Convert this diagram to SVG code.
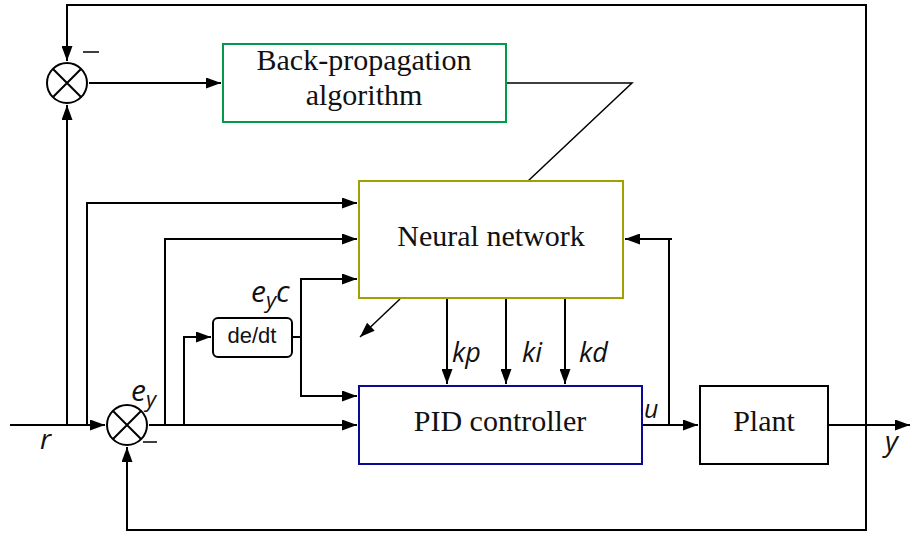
<svg xmlns="http://www.w3.org/2000/svg" width="910" height="533" viewBox="0 0 910 533">
<style>
.w{stroke:#000;stroke-width:2;fill:none}
.t{stroke:#000;stroke-width:1.5;fill:none}
.node{font-family:"Liberation Serif",serif;font-size:30px;fill:#111;text-anchor:middle}
.it{font-family:"Open Sans","Noto Sans",sans-serif;font-style:italic;fill:#111}
.sum{fill:#fff;stroke:#000;stroke-width:2}
</style>
<defs>
<marker id="a" markerUnits="userSpaceOnUse" markerWidth="15" markerHeight="11" refX="15" refY="5.5" orient="auto">
<path d="M0,0 L15,5.5 L0,11 z" fill="#000"/>
</marker>
</defs>
<rect width="910" height="533" fill="#fff"/>
<g id="connectors">
<path class="w" d="M10,425 H105" marker-end="url(#a)"/>
<path class="w" d="M67,425 V105" marker-end="url(#a)"/>
<path class="w" d="M866,425 V5 H67 V61" marker-end="url(#a)"/>
<path class="w" d="M866,425 V530 H127 V447" marker-end="url(#a)"/>
<path class="w" d="M89,83 H221" marker-end="url(#a)"/>
<path class="t" d="M506,83 H632 L528,181"/>
<path class="t" d="M400,299 L360,337" marker-end="url(#a)"/>
<path class="w" d="M87,425 V203 H357" marker-end="url(#a)"/>
<path class="w" d="M165,425 V239 H357" marker-end="url(#a)"/>
<path class="w" d="M184,425 V337 H211" marker-end="url(#a)"/>
<path class="w" d="M149,425 H357" marker-end="url(#a)"/>
<path class="w" d="M292,337 H301"/>
<path class="w" d="M301,337 V279 H357" marker-end="url(#a)"/>
<path class="w" d="M301,337 V396 H357" marker-end="url(#a)"/>
<path class="w" d="M447,299 V384" marker-end="url(#a)"/>
<path class="w" d="M506,299 V384" marker-end="url(#a)"/>
<path class="w" d="M565,299 V384" marker-end="url(#a)"/>
<path class="w" d="M643,425 H698" marker-end="url(#a)"/>
<path class="w" d="M669,425 V239 H625" marker-end="url(#a)"/>
<path class="w" d="M669,239 H672"/>
<path class="w" d="M829,425 H910" marker-end="url(#a)"/>
</g>
<g id="sum-top">
<circle class="sum" cx="67" cy="83" r="20"/>
<path class="w" d="M53,69 L81,97 M81,69 L53,97"/>
</g>
<g id="sum-bottom">
<circle class="sum" cx="127" cy="425" r="20"/>
<path class="w" d="M113,411 L141,439 M141,411 L113,439"/>
</g>
<g id="backprop">
<rect x="223" y="44" width="283" height="78" fill="#fff" stroke="#009a4a" stroke-width="2"/>
<text class="node" x="364" y="70">Back-propagation</text>
<text class="node" x="364" y="105">algorithm</text>
</g>
<g id="neural-network">
<rect x="359" y="181" width="264" height="117" fill="#fff" stroke="#a0a000" stroke-width="2"/>
<text class="node" x="491" y="246">Neural network</text>
</g>
<g id="pid">
<rect x="359" y="386" width="283" height="78" fill="#fff" stroke="#0a0a9a" stroke-width="2"/>
<text class="node" x="500" y="431">PID controller</text>
</g>
<g id="plant">
<rect x="700" y="386" width="128" height="78" fill="#fff" stroke="#000" stroke-width="2"/>
<text class="node" x="764" y="431">Plant</text>
</g>
<g id="ddt">
<rect x="213" y="318" width="79" height="39" rx="5" fill="#fff" stroke="#000" stroke-width="2"/>
<text x="252" y="343" font-family="Liberation Sans,sans-serif" font-size="22" fill="#111" text-anchor="middle">de/dt</text>
</g>
<g id="labels">
<text class="it" x="40" y="449" font-size="28">r</text>
<text class="it" x="885" y="451" font-size="28">y</text>
<text class="it" x="644" y="418" font-size="25">u</text>
<text class="it" x="131" y="401" font-size="30">e<tspan font-size="22" dy="6">y</tspan></text>
<text class="it" x="251" y="302" font-size="30">e<tspan font-size="22" dy="6">y</tspan><tspan dy="-6">c</tspan></text>
<text class="it" x="452" y="362" font-size="27">kp</text>
<text class="it" x="522" y="362" font-size="27">ki</text>
<text class="it" x="579" y="362" font-size="27">kd</text>
<path class="t" d="M83,52 H99 M143,442 H157"/>
</g>
</svg>
